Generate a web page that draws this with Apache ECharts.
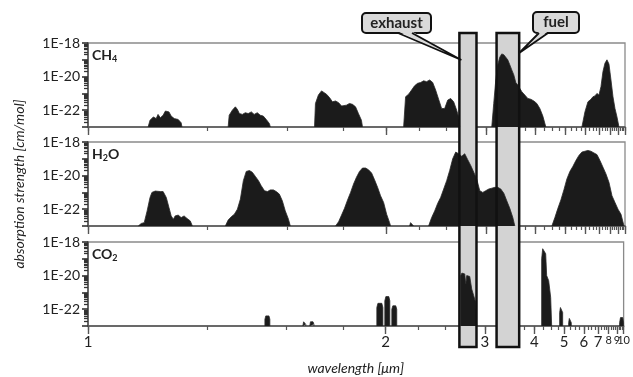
<!DOCTYPE html>
<html><head><meta charset="utf-8">
<script src="https://cdn.jsdelivr.net/npm/echarts@6/dist/echarts.min.js"></script>
<style>html,body{margin:0;padding:0;background:#fff}#c{width:633px;height:377px}</style>
</head><body><div id="c"></div>
<script>
// ---------- data (wavelength in µm, log10 absorption strength) ----------
const ch4Lambda = [
 1.112,1.116,1.123,1.129,1.133,1.138,1.144,1.149,1.153,1.157,1.162,1.169,1.178,1.185,1.187, null,
 1.307,1.310,1.319,1.328,1.334,1.340,1.349,1.358,1.367,1.377,1.386,1.396,1.406,1.416,1.426,1.437,1.440, null,
 1.612,1.616,1.629,1.643,1.652,1.666,1.680,1.694,1.709,1.724,1.739,1.749,1.764,1.780,1.796,1.813,1.829,1.846,1.852, null,
 2.123,2.138,2.161,2.185,2.209,2.234,2.260,2.286,2.312,2.340,2.368,2.396,2.425,2.455,2.486,2.518,2.550,2.583,2.617,2.640,2.652, null,
 3.093,3.125,3.159,3.192,3.227,3.262,3.299,3.335,3.373,3.412,3.451,3.492,3.533,3.576,3.619,3.664,3.733,3.804,3.878,3.956,4.036,4.120,4.207,4.298, null,
 5.807,5.982,6.168,6.366,6.505,6.650,6.802,6.961,7.128,7.303,7.486,7.679,7.882,8.097,8.323,8.562,8.815,9.084
];
const ch4LogS = [
 -23,-22.6,-22.4,-22.5,-22.25,-22.45,-22.3,-22.05,-21.95,-22.1,-22.35,-22.5,-22.55,-22.75,-23, null,
 -23,-22.3,-22.0,-21.8,-21.95,-22.2,-22.25,-22.15,-22.2,-22.1,-22.25,-22.15,-22.3,-22.35,-22.55,-22.8,-23, null,
 -23,-21.6,-21.1,-20.85,-20.9,-21.05,-21.25,-21.5,-21.45,-21.55,-21.75,-21.8,-21.7,-21.6,-21.65,-21.8,-22.2,-22.6,-23, null,
 -23,-21.2,-21.05,-20.8,-20.55,-20.4,-20.35,-20.25,-20.3,-20.2,-20.35,-20.8,-21.35,-21.9,-21.9,-21.4,-21.3,-21.5,-22.0,-22.4,-23, null,
 -23,-21.6,-20.2,-19.3,-18.85,-18.65,-18.7,-18.8,-19.0,-19.3,-19.6,-19.9,-20.35,-20.5,-20.7,-20.9,-21.1,-21.3,-21.35,-21.45,-21.6,-21.9,-22.35,-23, null,
 -23,-22.1,-21.5,-21.35,-21.2,-21.15,-21.0,-21.1,-20.6,-19.7,-19.2,-19.0,-19.25,-20.2,-21.2,-21.9,-22.4,-23
];
const h2oLambda = [
 1.092,1.098,1.104,1.110,1.116,1.120,1.127,1.131,1.138,1.144,1.151,1.157,1.162,1.167,1.171,1.178,1.185,1.192,1.199,1.207,1.212, null,
 1.299,1.307,1.316,1.325,1.334,1.343,1.352,1.361,1.371,1.380,1.390,1.400,1.409,1.420,1.430,1.440,1.451,1.461,1.472,1.483,1.494,1.506,1.513, null,
 1.709,1.724,1.739,1.754,1.770,1.786,1.802,1.818,1.835,1.852,1.870,1.887,1.906,1.924,1.943,1.962,1.982,2.002,2.022,2.029, null,
 2.169,2.177,2.193,2.201, null,
 2.330,2.358,2.387,2.416,2.445,2.476,2.507,2.539,2.572,2.606,2.640,2.676,2.713,2.750,2.789,2.829,2.869,2.912,2.955,2.999,3.045,3.093,3.142,3.192,3.245,3.299,3.354,3.412,3.472,3.513, null,
 4.493,4.597,4.706,4.820,4.940,5.066,5.199,5.339,5.486,5.642,5.807,5.982,6.168,6.366,6.577,6.802,7.043,7.303,7.581,7.882,8.208,8.562,8.948,9.370,9.835
];
const h2oLogS = [
 -23,-22.85,-22.8,-22.1,-21.3,-21.0,-20.92,-20.9,-20.95,-20.95,-21.3,-21.9,-22.4,-22.6,-22.4,-22.35,-22.5,-22.4,-22.55,-22.7,-23, null,
 -23,-22.65,-22.45,-22.3,-22.0,-21.4,-20.3,-19.75,-19.7,-19.8,-20.05,-20.3,-20.6,-20.9,-20.95,-20.85,-20.85,-20.95,-21.1,-21.5,-22.1,-22.6,-23, null,
 -23,-22.75,-22.35,-21.95,-21.45,-21.0,-20.5,-20.1,-19.75,-19.55,-19.55,-19.65,-19.85,-20.25,-20.7,-21.2,-21.6,-22.3,-22.8,-23, null,
 -23,-22.8,-22.8,-23, null,
 -23,-22.5,-22.1,-21.65,-21.3,-20.8,-20.3,-19.7,-19.0,-18.6,-18.7,-18.85,-18.7,-19.05,-19.4,-19.8,-20.2,-20.9,-21.0,-20.9,-20.8,-20.75,-20.7,-20.7,-20.8,-21.05,-21.5,-21.95,-22.5,-23, null,
 -23,-22.5,-21.95,-21.45,-20.85,-20.2,-19.75,-19.45,-19.1,-18.8,-18.6,-18.55,-18.5,-18.55,-18.65,-18.75,-19.1,-19.5,-19.9,-20.4,-21.2,-21.6,-22.0,-22.3,-23
];
const co2Lambda = [
 1.423,1.423,1.426,1.437,1.440,1.440, null,
 1.565,1.565,1.568,1.574,1.577,1.577, null,
 1.594,1.594,1.597,1.608,1.612,1.612, null,
 1.943,1.943,1.950,1.975,1.982,1.982, null,
 1.995,1.995,2.002,2.022,2.029,2.029, null,
 2.043,2.043,2.050,2.071,2.078,2.078, null,
 2.676,2.676,2.690,2.725,2.738,2.750,2.789,2.815,2.842,2.869,2.883, null,
 4.207,4.207,4.237,4.268,4.330,4.361,4.426,4.493,4.527, null,
 4.820,4.820,4.850,4.910,4.940,4.940, null,
 5.199,5.199,5.230,5.290,5.320,5.320, null,
 9.370,9.370,9.500,9.850,9.990,9.990
];
const co2LogS = [
 -23,-22.6,-22.4,-22.4,-22.6,-23, null,
 -23,-22.9,-22.75,-22.75,-22.9,-23, null,
 -23,-22.9,-22.75,-22.75,-22.9,-23, null,
 -23,-21.9,-21.65,-21.65,-21.9,-23, null,
 -23,-21.5,-21.25,-21.25,-21.5,-23, null,
 -23,-22.0,-21.8,-21.8,-22.0,-23, null,
 -23,-20.0,-19.85,-19.9,-20.5,-20.0,-20.05,-20.8,-21.2,-21.6,-23, null,
 -23,-19.0,-18.4,-18.33,-18.7,-20.0,-20.3,-21.3,-23, null,
 -23,-22.2,-21.9,-21.9,-22.2,-23, null,
 -23,-22.8,-22.55,-22.55,-22.8,-23, null,
 -23,-22.8,-22.5,-22.5,-22.8,-23
];
const panelLabels = ['CH{s|4}', 'H{s|2}O', 'CO{s|2}'];
const xTickLabels = [1,2,3,4,5,6,7,8,9,10];
const xMinorStep = 0.25;
const yDecades = [-23,-22,-21,-20,-19,-18];
const yLabelDecades = [-22,-20,-18];
const yMinorMantissas = [2,3,4,5,6,7,8,9];
const refLineValue = 1e-20;
const bandNames = ['exhaust', 'fuel'];
const bandStart = [2.66, 3.19];
const bandEnd = [2.88, 3.63];

// ---------- chart ----------
const FONT = 'Lato, "Open Sans", sans-serif';
const chart = echarts.init(document.getElementById('c'));
const gridTops = [43, 142, 242];
const molecules = [
  {lam: ch4Lambda, s: ch4LogS},
  {lam: h2oLambda, s: h2oLogS},
  {lam: co2Lambda, s: co2LogS}
];
const xMinorTicks = [];
for (let l = 1; l <= 10.0001; l += xMinorStep) xMinorTicks.push(1 / l);
const yMinorTicks = [];
yDecades.slice(0, -1).forEach(d => yMinorMantissas.forEach(m => yMinorTicks.push(m * Math.pow(10, d))));
const yMajorTicks = yDecades.map(d => Math.pow(10, d));
const yLabelVals = yLabelDecades.map(d => Math.pow(10, d));
const lastTick = xTickLabels[xTickLabels.length - 1];
const fmtX = v => { const l = Math.round(1 / v); return l >= 8 ? '{s|' + l + '}' : String(l); };
const xLabelStyle = {color: '#222', fontFamily: FONT, fontSize: 15, margin: 9,
  showMinLabel: true, showMaxLabel: true, hideOverlap: false, interval: 0, formatter: fmtX,
  rich: {s: {fontSize: 11, color: '#222', fontFamily: FONT}}};

const grids = [], xAxes = [], yAxes = [], series = [];
molecules.forEach((m, i) => {
  grids.push({left: 88, right: 8, top: gridTops[i], height: 84, show: true,
    borderColor: '#8a8a8a', borderWidth: 1.3, backgroundColor: 'transparent'});
  xAxes.push({type: 'value', gridIndex: i, min: 0.1, max: 1, inverse: true, position: 'bottom',
    axisLine: {show: true, onZero: false, lineStyle: {color: '#555', width: 1.6}},
    axisTick: {show: true, customValues: xMinorTicks, length: 4, lineStyle: {color: '#555', width: 1.2}},
    axisLabel: {show: false}, splitLine: {show: false}});
  xAxes.push({type: 'value', gridIndex: i, min: 0.1, max: 1, inverse: true, position: 'bottom',
    axisLine: {show: false, onZero: false},
    axisTick: {show: true, customValues: xTickLabels.map(l => 1 / l), length: 8, lineStyle: {color: '#555', width: 1.4}},
    axisLabel: Object.assign({show: i === 2, customValues: xTickLabels.filter(l => l !== lastTick).map(l => 1 / l)}, xLabelStyle),
    splitLine: {show: false},
    name: i === 2 ? 'wavelength [\u03bcm]' : '', nameLocation: 'middle', nameGap: 35,
    nameTextStyle: {fontStyle: 'italic', fontSize: 14, color: '#222', fontFamily: FONT}});
  yAxes.push({type: 'log', logBase: 10, gridIndex: i, position: 'left', min: 1e-23, max: 1e-18,
    axisLine: {show: true, lineStyle: {color: '#555', width: 1.6}},
    axisTick: {show: true, customValues: yMajorTicks, length: 6, lineStyle: {color: '#333', width: 1.6}},
    axisLabel: {customValues: yLabelVals, formatter: v => '1E' + Math.round(Math.log10(v)),
      fontSize: 14, color: '#222', fontFamily: FONT, margin: 8},
    splitLine: {show: false},
    name: i === 1 ? 'absorption strength [cm/mol]' : '', nameLocation: 'middle', nameGap: 62,
    nameTextStyle: {fontStyle: 'italic', fontSize: 14, color: '#222', fontFamily: FONT}});
  yAxes.push({type: 'log', logBase: 10, gridIndex: i, position: 'left', offset: 0, min: 1e-23, max: 1e-18,
    axisLine: {show: false},
    axisTick: {show: true, customValues: yMinorTicks, length: 4, lineStyle: {color: '#333', width: 1.3}},
    axisLabel: {show: false}, splitLine: {show: false}});
  series.push({type: 'line', xAxisIndex: 2 * i, yAxisIndex: 2 * i, symbol: 'none', showSymbol: false,
    connectNulls: false, zlevel: 1, z: 3,
    data: m.lam.map((l, k) => l === null ? '-' : [1 / l, Math.pow(10, m.s[k])]),
    lineStyle: {color: '#2a2a2a', width: 0.8},
    areaStyle: {color: '#1b1b1b', opacity: 1, origin: 'start'},
    markLine: {silent: true, symbol: 'none', label: {show: false}, animation: false,
      lineStyle: {color: '#8f8f8f', width: 1, type: [7, 3, 2, 3]},
      data: [{yAxis: refLineValue}]}
  });
});
// separate label axis for the last tick label so it is not dropped by overlap handling
xAxes.push({type: 'value', gridIndex: 2, min: 0.1, max: 1, inverse: true, position: 'bottom',
  axisLine: {show: false, onZero: false}, axisTick: {show: false}, splitLine: {show: false},
  axisLabel: Object.assign({show: true, customValues: [1 / lastTick]}, xLabelStyle)});

chart.setOption({
  animation: false,
  backgroundColor: '#fff',
  grid: grids, xAxis: xAxes, yAxis: yAxes, series: series
});

// ---------- annotations ----------
const g = [];
panelLabels.forEach((t, i) => {
  g.push({type: 'text', zlevel: 2, z: 20, left: 92, top: gridTops[i] + 5,
    style: {text: t, font: 'bold 14px ' + FONT, fill: '#222',
      rich: {s: {fontSize: 9, fontWeight: 'bold', fontFamily: FONT, fill: '#222', padding: [8, 0, 0, 0]}}}});
});
const bx = bandNames.map((n, k) => [
  chart.convertToPixel({xAxisIndex: 4}, 1 / bandStart[k]),
  chart.convertToPixel({xAxisIndex: 4}, 1 / bandEnd[k])
]);
bx.forEach(([x0, x1]) => {
  g.push({type: 'rect', zlevel: 0, z: 5, silent: true, shape: {x: x0, y: 33, width: x1 - x0, height: 314},
    style: {fill: '#d3d3d3'}});
  g.push({type: 'rect', zlevel: 2, z: 20, silent: true, shape: {x: x0, y: 33, width: x1 - x0, height: 314}, style: {fill: null, stroke: '#111', lineWidth: 2.5}});
});
const callouts = [
  {box: [362, 13, 69, 20], base: [398, 412], tip: [bx[0][0] + 2, 60]},
  {box: [533, 12, 46, 21], base: [539, 548], tip: [bx[1][1], 53]}
];
callouts.forEach((c, k) => {
  const [x, y, w, h] = c.box;
  g.push({type: 'rect', zlevel: 2, z: 21, shape: {x, y, width: w, height: h, r: 4}, style: {fill: '#dadada', stroke: '#111', lineWidth: 2}});
  g.push({type: 'polygon', zlevel: 2, z: 22, shape: {points: [[c.base[0], y + h - 1.5], [c.base[1], y + h - 1.5], c.tip]}, style: {fill: '#dadada'}});
  g.push({type: 'polyline', zlevel: 2, z: 23, shape: {points: [[c.base[0], y + h], c.tip, [c.base[1], y + h]]}, style: {stroke: '#111', lineWidth: 1.8, fill: null}});
  g.push({type: 'text', zlevel: 2, z: 24, style: {x: x + w / 2, y: y + h / 2, text: bandNames[k], align: 'center', verticalAlign: 'middle',
    font: 'bold 15px ' + FONT, fill: '#222'}});
});
chart.setOption({graphic: g});
</script></body></html>
